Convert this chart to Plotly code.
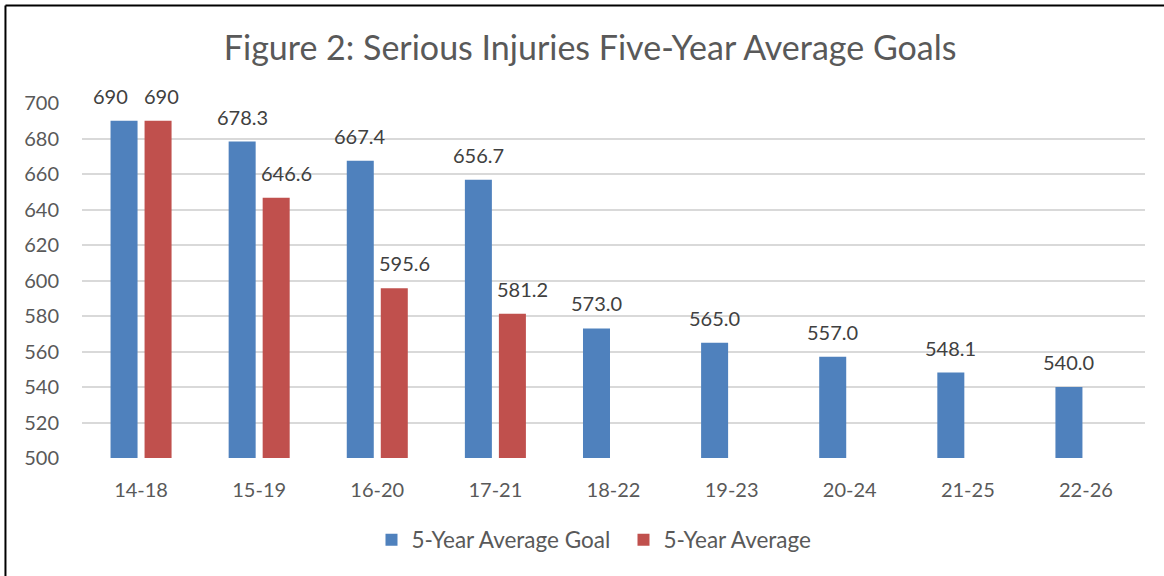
import plotly.graph_objects as go

categories = ["14-18", "15-19", "16-20", "17-21", "18-22", "19-23", "20-24", "21-25", "22-26"]
goal_values = [690, 678.3, 667.4, 656.7, 573.0, 565.0, 557.0, 548.1, 540.0]
goal_labels = ["690", "678.3", "667.4", "656.7", "573.0", "565.0", "557.0", "548.1", "540.0"]
avg_values = [690, 646.6, 595.6, 581.2, None, None, None, None, None]
avg_labels = ["690", "646.6", "595.6", "581.2", "", "", "", "", ""]
y_ticks = [500, 520, 540, 560, 580, 600, 620, 640, 660, 680, 700]

# label nudges (pixels) relative to each bar's slot, as laid out in the reference
goal_label_nudge = [-14, 0, 0, 0, 0, 0, 0, 0, 0]
avg_label_nudge = [3, 10, 10, 10, 0, 0, 0, 0, 0]

FONT = "Lato"
TICK_COLOR = "#595959"
LABEL_COLOR = "#404040"
SLOT = 17

fig = go.Figure()
fig.add_trace(go.Bar(
    x=categories, y=goal_values, name="5-Year Average Goal",
    marker=dict(color="#4F81BD", line=dict(width=0)),
))
fig.add_trace(go.Bar(
    x=categories, y=avg_values, name="5-Year Average",
    marker=dict(color="#C0504D", line=dict(width=0)),
))

# data labels above each bar (shifted to the bar's slot inside the group)
for cat, val, lab, nd in zip(categories, goal_values, goal_labels, goal_label_nudge):
    if val is not None and lab:
        fig.add_annotation(x=cat, y=val, text=lab, showarrow=False,
                           xanchor="center", yanchor="bottom", xshift=-SLOT + nd, yshift=11,
                           font=dict(family=FONT, size=20, color=LABEL_COLOR))
for cat, val, lab, nd in zip(categories, avg_values, avg_labels, avg_label_nudge):
    if val is not None and lab:
        fig.add_annotation(x=cat, y=val, text=lab, showarrow=False,
                           xanchor="center", yanchor="bottom", xshift=SLOT + nd, yshift=11,
                           font=dict(family=FONT, size=20, color=LABEL_COLOR))

fig.update_layout(
    width=1164, height=576,
    margin=dict(l=82, r=19, t=103, b=118),
    paper_bgcolor="white", plot_bgcolor="white",
    barmode="group", bargap=0.424, bargroupgap=0.206,
    title=dict(text="Figure 2: Serious Injuries Five-Year Average Goals",
               x=0.507, xanchor="center", y=1 - 48 / 576, yanchor="middle",
               yref="container",
               font=dict(family=FONT, size=34, color=TICK_COLOR)),
    font=dict(family=FONT, color=TICK_COLOR),
    showlegend=True,
    legend=dict(orientation="h", x=0.5094, xanchor="center", y=-0.231, yanchor="middle",
                font=dict(family=FONT, size=22.5, color=TICK_COLOR),
                itemwidth=30, entrywidth=207, entrywidthmode="pixels",
                traceorder="normal"),
)
fig.update_xaxes(
    type="category", showgrid=False, zeroline=False, showline=False,
    ticks="outside", ticklen=14, tickcolor="rgba(0,0,0,0)",
    tickfont=dict(family=FONT, size=20, color=TICK_COLOR),
)
fig.update_yaxes(
    range=[500, 700], tickvals=y_ticks, showgrid=True, gridcolor="#D9D9D9", gridwidth=1.5,
    zeroline=False, showline=False,
    ticks="outside", ticklen=18, tickcolor="rgba(0,0,0,0)",
    tickfont=dict(family=FONT, size=20, color=TICK_COLOR),
)

# outer chart border (top and left edges visible in the reference)
fig.add_shape(type="line", xref="paper", yref="paper",
              x0=-0.072, x1=1.1, y0=1.2746, y1=1.2746,
              line=dict(color="black", width=2))
fig.add_shape(type="line", xref="paper", yref="paper",
              x0=-0.072, x1=-0.072, y0=1.2746, y1=-0.4,
              line=dict(color="black", width=2))

fig.write_html("out.html", config={"displayModeBar": False},
               post_script="document.body.style.margin='0';")
